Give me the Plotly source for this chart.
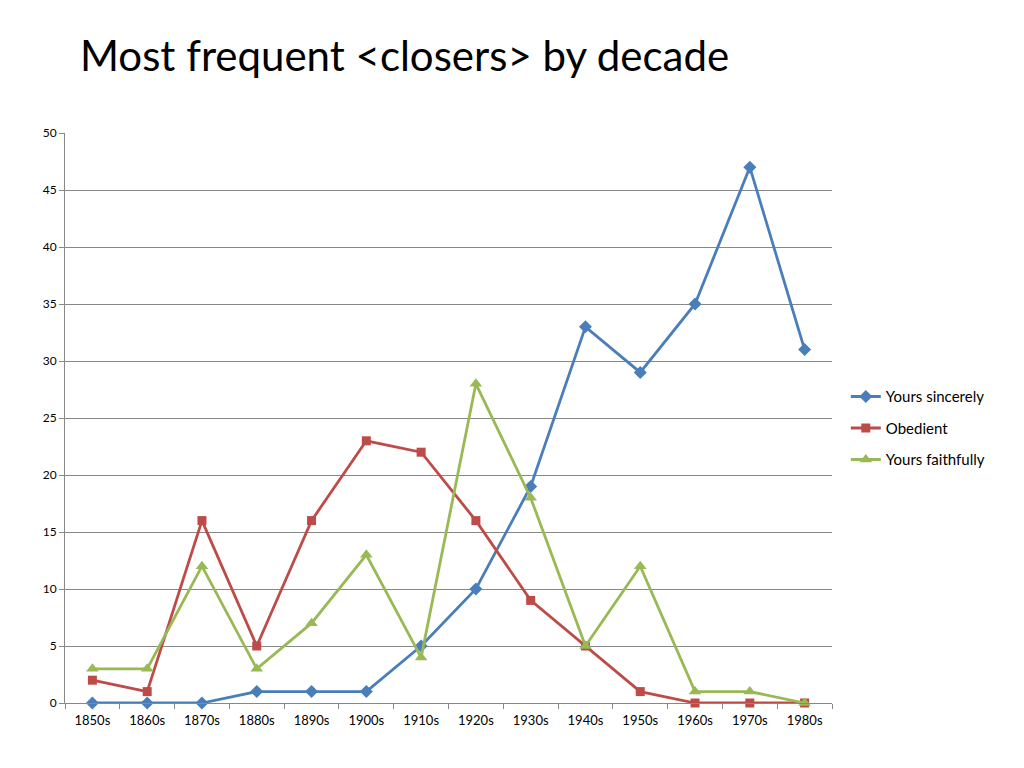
import plotly.graph_objects as go

decades = ["1850s", "1860s", "1870s", "1880s", "1890s", "1900s", "1910s",
           "1920s", "1930s", "1940s", "1950s", "1960s", "1970s", "1980s"]
yours_sincerely = [0, 0, 0, 1, 1, 1, 5, 10, 19, 33, 29, 35, 47, 31]
obedient = [2, 1, 16, 5, 16, 23, 22, 16, 9, 5, 1, 0, 0, 0]
yours_faithfully = [3, 3, 12, 3, 7, 13, 4, 28, 18, 5, 12, 1, 1, 0]

FONT = "Lato, Open Sans, sans-serif"

fig = go.Figure()

fig.add_trace(go.Scatter(
    x=decades, y=yours_sincerely, name="Yours sincerely", legendgroup="a",
    mode="lines+markers", cliponaxis=False,
    line=dict(color="#4A7EBB", width=2.8),
    marker=dict(symbol="diamond", size=10, color="#4A7EBB"),
))
fig.add_trace(go.Scatter(
    x=decades, y=obedient, name="Obedient", legendgroup="b",
    mode="lines+markers", cliponaxis=False,
    line=dict(color="#BE4B48", width=2.8),
    marker=dict(symbol="square", size=9, color="#BE4B48"),
))
fig.add_trace(go.Scatter(
    x=decades, y=yours_faithfully, name="Yours faithfully", legendgroup="c",
    mode="lines+markers", cliponaxis=False,
    line=dict(color="#98B954", width=2.8),
    marker=dict(symbol="triangle-up", size=11, color="#98B954"),
))

fig.update_layout(
    width=1008, height=752,
    paper_bgcolor="white", plot_bgcolor="white",
    font=dict(family=FONT, size=12, color="black"),
    margin=dict(l=57, r=184, t=125, b=57),
    showlegend=True,
    legend=dict(x=1.018, y=0.482, xanchor="left", yanchor="middle",
                font=dict(size=15), tracegroupgap=9, itemwidth=30,
                bgcolor="rgba(0,0,0,0)"),
    annotations=[dict(
        text="Most frequent &lt;closers&gt; by decade",
        xref="paper", yref="paper", x=0.0175, y=1.137,
        xanchor="left", yanchor="middle", showarrow=False,
        font=dict(family=FONT, size=42, color="black"),
    )],
)

fig.update_xaxes(
    type="category", range=[-0.5, len(decades) - 0.5], showgrid=False,
    showline=True, linecolor="#888888", linewidth=1,
    ticks="outside", tickson="boundaries", ticklen=5, tickcolor="#888888",
    tickfont=dict(size=13), ticklabelstandoff=5,
)
fig.update_yaxes(
    range=[0, 50], dtick=5, showgrid=True, gridcolor="#888888", gridwidth=1,
    showline=True, linecolor="#888888", linewidth=1,
    ticks="outside", ticklen=5, tickcolor="#888888",
    tickfont=dict(size=12), zeroline=False,
)

fig.write_html("out.html")
